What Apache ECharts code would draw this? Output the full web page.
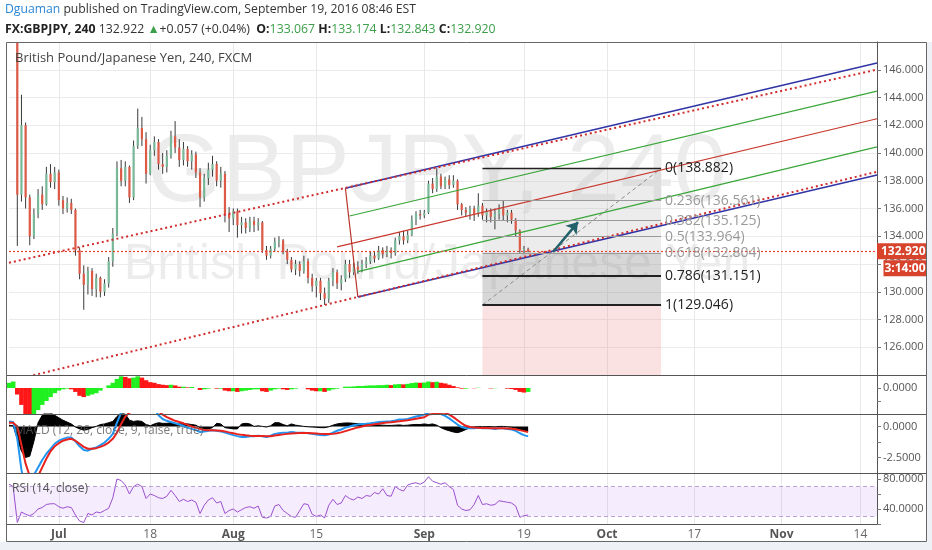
<!DOCTYPE html>
<html>
<head>
<meta charset="utf-8">
<title>GBPJPY 240</title>
<script src="https://cdn.jsdelivr.net/npm/echarts@6/dist/echarts.min.js"></script>
<style>
  html, body { margin: 0; padding: 0; background: #fff; }
  #chart { width: 932px; height: 550px; }
</style>
</head>
<body>
<div id="chart"></div>
<script>
// time axis: one slot per half trading day, labels on a few slots
const barCount = 210;
const tickIdx = [12, 34, 54, 74, 100, 124, 144, 165, 186, 205];
const tickLbl = ['Jul', '18', 'Aug', '15', 'Sep', '19', 'Oct', '17', 'Nov', '14'];

// price bars
const open = [
  153.0,156.0,158.0,137.0,142.0,136.8,134.0,135.6,137.0,136.3,
  138.5,137.9,138.6,136.6,136.0,136.4,135.9,133.0,131.3,130.5,
  131.5,130.2,131.0,130.0,130.6,132.2,134.2,138.9,138.0,139.0,
  136.8,140.5,141.8,141.0,138.5,140.2,140.8,139.2,139.0,139.8,
  141.2,140.4,139.5,140.3,139.4,139.9,138.6,136.8,138.2,138.8,
  139.2,138.0,138.5,135.6,135.3,135.8,134.8,135.0,134.6,135.1,
  134.8,135.0,133.0,132.6,133.1,133.6,133.7,132.9,132.3,131.6,
  132.0,131.5,132.2,131.0,130.4,130.8,129.9,129.5,130.8,131.4,
  130.6,130.9,132.0,131.4,131.8,131.6,132.0,132.2,132.6,132.4,
  133.0,132.7,133.0,132.8,133.7,134.0,133.7,134.1,135.2,135.6,
  135.5,135.7,137.8,137.4,138.3,137.6,138.1,137.7,138.0,136.3,
  135.9,135.7,136.0,135.6,136.2,135.5,135.8,135.4,135.6,136.0,
  135.5,135.7,135.2,134.4,133.0,133.067
];
const high = [
  156.5,160.2,160.0,144.2,142.2,137.0,136.0,137.4,137.6,139.0,
  139.2,139.0,138.8,136.9,136.8,136.7,136.0,133.2,131.9,131.8,
  131.7,131.3,131.1,130.9,132.5,134.6,139.4,139.5,139.4,139.1,
  140.9,143.2,142.6,141.5,140.6,141.2,141.0,140.0,140.2,141.6,
  142.3,141.0,140.8,140.5,140.2,140.1,138.9,138.5,139.3,139.8,
  139.4,139.0,138.7,136.1,136.0,136.0,135.4,135.3,135.4,135.4,
  135.3,135.1,133.3,133.3,133.9,134.0,133.8,133.1,132.5,132.3,
  132.2,132.6,132.4,131.3,131.0,131.0,130.3,131.0,131.7,131.6,
  131.2,132.3,132.3,132.1,132.2,132.3,132.5,132.9,132.9,133.3,
  133.2,133.3,133.2,133.9,134.3,134.4,134.4,135.5,135.8,135.9,
  135.9,138.0,138.2,138.9,138.5,138.3,138.4,138.4,138.1,136.4,
  136.1,136.2,136.2,137.1,136.4,136.0,136.0,136.0,136.3,136.6,
  135.9,135.9,135.3,134.5,133.3,133.174
];
const low = [
  152.5,155.5,133.3,136.5,136.0,133.35,133.8,135.3,135.9,136.2,
  137.5,137.4,136.2,135.6,135.7,135.6,132.6,130.9,128.7,129.8,
  129.7,129.6,129.6,129.7,130.3,131.8,134.0,137.6,137.6,136.4,
  136.6,140.3,140.5,137.8,138.4,139.8,138.8,138.5,138.6,139.6,
  140.0,139.0,139.1,139.0,138.8,138.2,136.1,136.5,137.7,138.3,
  137.6,137.5,135.0,134.3,134.8,133.9,134.2,134.2,134.3,134.3,
  134.4,132.8,132.3,132.4,132.9,133.2,132.7,132.0,131.4,131.2,
  131.1,131.3,130.6,130.0,129.6,129.4,129.05,129.2,130.4,130.2,
  130.1,130.7,131.0,131.2,131.3,131.4,131.7,132.0,132.1,132.3,
  132.4,132.5,132.4,132.6,133.4,133.4,133.5,134.0,134.8,135.2,
  135.3,135.6,137.1,137.2,137.4,137.4,137.4,137.5,135.9,135.5,
  135.4,135.2,135.1,135.4,135.2,135.0,135.0,134.5,135.2,135.1,
  135.0,134.9,134.0,132.8,132.7,132.843
];
const close = [
  156.0,158.0,137.0,142.0,136.8,134.0,135.6,137.0,136.3,138.5,
  137.9,138.6,136.6,136.0,136.4,135.9,133.0,131.3,130.5,131.5,
  130.2,131.0,130.0,130.6,132.2,134.2,138.9,138.0,139.0,136.8,
  140.5,141.8,141.0,138.5,140.2,140.8,139.2,139.0,139.8,141.2,
  140.4,139.5,140.3,139.4,139.9,138.6,136.8,138.2,138.8,139.2,
  138.0,138.5,135.6,135.3,135.8,134.8,135.0,134.6,135.1,134.8,
  135.0,133.0,132.6,133.1,133.6,133.7,132.9,132.3,131.6,132.0,
  131.5,132.2,131.0,130.4,130.8,129.9,129.5,130.8,131.4,130.6,
  130.9,132.0,131.4,131.8,131.6,132.0,132.2,132.6,132.4,133.0,
  132.7,133.0,132.8,133.7,134.0,133.7,134.1,135.2,135.6,135.5,
  135.7,137.8,137.4,138.3,137.6,138.1,137.7,138.0,136.3,135.9,
  135.7,136.0,135.6,136.2,135.5,135.8,135.4,135.6,136.0,135.5,
  135.7,135.2,134.4,133.0,133.067,132.922
];
const lastClose = 132.92;

// upper oscillator pane (green / red histogram)
const osc = [
  0.4,0.5,-0.5,-1.3,-2.0,-2.2,-2.1,-1.7,-1.3,-1.0,
  -0.7,-0.4,-0.2,-0.1,-0.05,-0.1,-0.3,-0.6,-0.7,-0.6,
  -0.5,-0.4,-0.2,0.0,0.2,0.4,0.7,0.9,0.85,0.75,
  0.8,0.9,0.8,0.6,0.45,0.4,0.3,0.25,0.22,0.25,
  0.2,0.1,0.1,0.05,0.08,0.0,-0.15,-0.1,-0.05,0.0,
  -0.05,-0.05,-0.2,-0.25,-0.25,-0.3,-0.25,-0.2,-0.15,-0.1,
  -0.1,-0.25,-0.3,-0.2,-0.1,-0.05,-0.1,-0.15,-0.1,-0.05,
  0.0,0.0,-0.1,-0.2,-0.25,-0.25,-0.3,-0.2,-0.1,-0.05,
  0.0,0.1,0.1,0.12,0.15,0.15,0.18,0.2,0.2,0.22,
  0.22,0.25,0.22,0.28,0.3,0.28,0.32,0.38,0.42,0.4,
  0.42,0.5,0.45,0.48,0.4,0.35,0.25,0.15,0.05,-0.05,
  -0.05,0.0,-0.02,0.02,0.0,0.0,-0.03,-0.02,0.0,0.0,
  -0.05,-0.08,-0.15,-0.3,-0.35,-0.3
];

// MACD pane
const macd = [
  0.4,0.35,-1.0,-3.5,-5.0,-5.5,-3.9,-3.3,-2.7,-2.2,
  -1.8,-1.4,-1.15,-1.0,-0.9,-0.9,-1.2,-1.6,-1.9,-1.95,
  -1.8,-1.7,-1.5,-1.3,-1.0,-0.6,0.3,1.1,1.5,1.4,
  1.6,1.9,2.0,1.7,1.6,1.4,0.9,0.6,0.45,0.35,
  0.25,0.15,0.05,-0.1,-0.2,-0.3,-0.45,-0.4,-0.35,-0.3,
  -0.35,-0.4,-0.5,-0.6,-0.7,-0.78,-0.85,-0.85,-0.8,-0.8,
  -0.75,-0.8,-0.85,-0.75,-0.6,-0.55,-0.5,-0.5,-0.45,-0.48,
  -0.5,-0.5,-0.55,-0.6,-0.65,-0.7,-0.72,-0.65,-0.5,-0.35,
  -0.25,-0.1,0.0,0.1,0.15,0.2,0.22,0.25,0.3,0.35,
  0.38,0.4,0.42,0.48,0.55,0.55,0.6,0.7,0.8,0.85,
  0.95,1.1,1.2,1.15,1.0,0.85,0.65,0.4,0.15,-0.05,
  -0.15,-0.15,-0.15,-0.1,-0.15,-0.15,-0.15,-0.2,-0.15,-0.15,
  -0.2,-0.25,-0.35,-0.55,-0.7,-0.8
];
const signal = [
  0.3,0.3,0.0,-1.5,-3.0,-4.0,-4.3,-4.0,-3.3,-2.6,
  -2.0,-1.6,-1.35,-1.15,-1.05,-1.0,-1.15,-1.4,-1.65,-1.8,
  -1.8,-1.75,-1.65,-1.5,-1.3,-1.0,-0.5,0.2,0.8,1.1,
  1.3,1.5,1.65,1.65,1.6,1.55,1.2,0.95,0.75,0.6,
  0.45,0.35,0.25,0.12,0.0,-0.1,-0.2,-0.28,-0.3,-0.3,
  -0.32,-0.35,-0.4,-0.48,-0.55,-0.62,-0.68,-0.72,-0.75,-0.77,
  -0.77,-0.78,-0.8,-0.79,-0.74,-0.69,-0.64,-0.6,-0.57,-0.55,
  -0.53,-0.52,-0.53,-0.55,-0.57,-0.6,-0.62,-0.62,-0.6,-0.55,
  -0.48,-0.38,-0.28,-0.18,-0.08,0.0,0.07,0.12,0.17,0.22,
  0.27,0.31,0.34,0.38,0.42,0.46,0.5,0.55,0.62,0.68,
  0.74,0.95,1.0,1.05,1.1,1.1,0.95,0.75,0.5,0.25,
  0.05,-0.05,-0.08,-0.1,-0.12,-0.13,-0.14,-0.15,-0.15,-0.15,
  -0.16,-0.18,-0.22,-0.3,-0.38,-0.46
];
const macdArea = [
  0.1,0.05,-1.0,-2.0,-2.5,-2.4,-1.2,0.3,0.9,1.2,
  1.1,0.9,0.7,0.5,0.35,0.2,-0.05,-0.2,-0.3,-0.25,
  -0.1,0.0,0.15,0.2,0.3,0.4,0.8,1.1,1.0,0.5,
  0.4,0.45,0.4,0.15,0.05,0.2,0.3,0.25,0.25,0.3,
  0.2,0.2,0.25,0.2,0.15,0.1,-0.1,-0.2,-0.2,-0.1,
  0.25,0.2,-0.1,-0.15,-0.2,-0.2,0.2,0.25,0.2,0.0,
  0.05,0.0,-0.05,0.05,0.3,0.3,0.15,0.05,0.2,0.1,
  0.05,0.0,-0.03,-0.05,-0.07,-0.1,-0.1,-0.03,0.1,0.2,
  0.25,0.28,0.28,0.25,0.22,0.2,0.15,0.12,0.12,0.12,
  0.1,0.08,0.08,0.1,0.12,0.08,0.1,0.14,0.16,0.15,
  0.2,0.15,0.2,0.1,-0.1,-0.25,-0.35,-0.45,-0.5,-0.4,
  -0.25,-0.1,-0.07,0.0,-0.03,-0.02,-0.01,-0.05,0.0,0.0,
  -0.04,-0.07,-0.13,-0.25,-0.32,-0.35
];

// RSI pane
const rsi = [
  73,70,22,36,33,31,34,40,42,46,
  47,47,43,41,43,42,32,24,22,34,
  32,36,35,38,41,55,80,78,72,60,
  70,73,70,54,60,58,55,54,57,65,
  58,50,53,50,52,49,34,45,52,55,
  48,50,34,38,40,36,39,42,43,41,
  44,29,28,30,44,46,38,34,30,29,
  38,47,46,33,30,32,28,45,53,46,
  48,58,54,52,56,54,58,57,62,60,
  67,58,57,70,66,64,72,74,75,73,
  76,83,77,75,73,75,70,66,45,40,
  38,39,46,58,46,47,45,46,51,50,
  49,48,44,29,31,32
];

// drawings: [slot, price] anchors
const upperDotted = [[0, 132.09], [209, 146.01]];
const lowerDotted = [[0, 123.56], [209, 138.65]];
const forkUpper = [[81, 137.46], [209, 146.48]];
const forkLower = [[84, 129.62], [209, 138.42]];
const forkMedian = [[79, 133.23], [209, 142.47]];
const forkInnerUp = [[82, 135.46], [209, 144.46]];
const forkInnerLow = [[84, 131.45], [209, 140.44]];
const forkHandle = [[81, 137.46], [84, 129.62]];
const arrowPts = [[131, 132.87], [137, 135.02]];
const fibLevels = [0, 0.236, 0.382, 0.5, 0.618, 0.786, 1];
const fibPrices = [138.882, 136.561, 135.125, 133.964, 132.804, 131.151, 129.046];
const fibFrom = 114, fibTo = 157;

const cats = Array.from({ length: barCount }, (_, i) => String(i));
const candles = open.map((o, i) => [i, o, close[i], low[i], high[i]]);

const FONT = '"Open Sans", "Noto Sans", sans-serif';
const AXIS_TXT = '#555';

function makeX(k) {
  return {
    type: 'category', gridIndex: k, data: cats, boundaryGap: false,
    axisLine: { show: false }, axisTick: { show: false },
    axisLabel: {
      show: k === 3, margin: 5, fontFamily: FONT, fontSize: 12,
      interval: (i) => tickIdx.includes(i),
      formatter: (v, i) => {
        const t = tickLbl[tickIdx.indexOf(i)];
        return isNaN(t) ? '{m|' + t + '}' : '{d|' + t + '}';
      },
      rich: {
        m: { fontWeight: 'bold', color: '#555', fontSize: 12, fontFamily: FONT },
        d: { color: '#666', fontSize: 12, fontFamily: FONT }
      }
    },
    splitLine: { show: true, interval: (i) => tickIdx.includes(i), lineStyle: { color: '#e8e8e8' } }
  };
}

function makeY(k, min, max, interval, fmt, split) {
  return {
    type: 'value', gridIndex: k, position: 'right', min, max, interval,
    axisLine: { show: true, lineStyle: { color: '#555' } },
    axisTick: { show: true, length: 4, lineStyle: { color: '#777' } },
    axisLabel: { color: AXIS_TXT, fontSize: 11, fontFamily: FONT, margin: 6, formatter: fmt,
                 showMinLabel: k === 0 ? false : null, showMaxLabel: k === 0 ? false : null },
    splitLine: { show: split, lineStyle: { color: '#ebebeb' } }
  };
}

function renderCandle(params, api) {
  const i = api.value(0);
  const o = api.value(1), c = api.value(2), l = api.value(3), h = api.value(4);
  const pH = api.coord([i, h]), pL = api.coord([i, l]);
  const pO = api.coord([i, o]), pC = api.coord([i, c]);
  const w = 2.2;
  const cs = params.coordSys;
  return {
    type: 'group',
    clipPath: { type: 'rect', shape: { x: cs.x, y: cs.y, width: cs.width, height: cs.height } },
    children: [
      { type: 'line', shape: { x1: pH[0], y1: pH[1], x2: pL[0], y2: pL[1] },
        style: { stroke: '#3a3a3a', lineWidth: 1 } },
      { type: 'rect', shape: { x: pO[0] - w / 2, y: Math.min(pO[1], pC[1]), width: w,
                               height: Math.max(Math.abs(pO[1] - pC[1]), 1) },
        style: { fill: c >= o ? '#79b99a' : '#dd5a47' } }
    ]
  };
}

function drawLine(data, color, width, type, z) {
  return {
    type: 'line', xAxisIndex: 0, yAxisIndex: 0, data, showSymbol: false, silent: true,
    lineStyle: { color, width, type }, z
  };
}

const fibColor = (lv) => (lv === 0 || lv >= 0.786) ? '#222' : '#9a9a9a';
const fibLines = fibLevels.map((lv, k) => [
  { coord: [fibFrom, fibPrices[k]],
    lineStyle: { color: fibColor(lv), width: lv === 0 ? 1.3 : (lv >= 0.786 ? 2 : 1), type: 'solid' },
    label: { show: true, position: 'end', distance: 4, formatter: lv + '(' + fibPrices[k].toFixed(3) + ')',
             color: fibColor(lv), fontSize: 14, fontFamily: FONT } },
  { coord: [fibTo, fibPrices[k]] }
]);

const option = {
  animation: false,
  backgroundColor: '#ffffff',
  textStyle: { fontFamily: FONT },
  grid: [
    { left: 9, right: 55, top: 42, height: 333 },
    { left: 9, right: 55, top: 375, height: 39 },
    { left: 9, right: 55, top: 414, height: 59 },
    { left: 9, right: 55, top: 473, height: 51 }
  ],
  xAxis: [0, 1, 2, 3].map(makeX),
  yAxis: [
    makeY(0, 124, 148, 2, (v) => v.toFixed(3), true),
    makeY(1, -2, 1, 1, (v) => v === 0 ? '0.0000' : '', false),
    makeY(2, -3.75, 1, 1.25, (v) => (v === 0 || v === -2.5) ? v.toFixed(4) : '', false),
    makeY(3, 20, 88, 20, (v) => (v === 40 || v === 80) ? v.toFixed(4) : '', false)
  ],
  graphic: [
    { type: 'text', left: 5, top: 4, z: 20,
      style: { text: '{u|Dguaman} published on TradingView.com, September 19, 2016 08:46 EST',
               fill: '#333', fontSize: 12.2, fontFamily: FONT,
               rich: { u: { fill: '#2b86d6', fontSize: 12.2, fontFamily: FONT } } } },
    { type: 'text', left: 5, top: 23, z: 20,
      style: { text: '{b|FX:GBPJPY, 240} 132.922 {g|▲}+0.057 (+0.04%)  {b|O:}{g|133.067} {b|H:}{g|133.174} {b|L:}{g|132.843} {b|C:}{g|132.920}',
               fill: '#333', fontSize: 12.3, fontFamily: FONT,
               rich: { b: { fill: '#222', fontWeight: 'bold', fontSize: 12.3, fontFamily: FONT },
                       g: { fill: '#3a9f48', fontSize: 12.3, fontFamily: FONT } } } },
    { type: 'text', x: 437, y: 175, z: 0, silent: true,
      style: { text: 'GBPJPY, 240', fill: 'rgba(0,0,0,0.075)', fontSize: 96, fontFamily: 'Liberation Sans, Arial, sans-serif',
               align: 'center', verticalAlign: 'middle' } },
    { type: 'text', x: 437, y: 265, z: 0, silent: true,
      style: { text: 'British Pound/Japanese Yen', fill: 'rgba(0,0,0,0.075)', fontSize: 50, fontFamily: 'Liberation Sans, Arial, sans-serif',
               align: 'center', verticalAlign: 'middle' } },
    { type: 'text', left: 15, top: 52, z: 20,
      style: { text: 'British Pound/Japanese Yen, 240, FXCM', fill: '#444', fontSize: 13, fontFamily: FONT } },
    { type: 'text', left: 15, top: 425, z: 20,
      style: { text: 'MACD (12, 26, close, 9, false, true)', fill: 'rgba(90,90,90,0.8)', fontSize: 12, fontFamily: FONT } },
    { type: 'text', left: 12, top: 483, z: 20,
      style: { text: 'RSI (14, close)', fill: '#555', fontSize: 12, fontFamily: FONT } },
    // frame and pane separators
    { type: 'rect', z: 30, silent: true, shape: { x: 6.5, y: 42.5, width: 920, height: 499 },
      style: { fill: null, stroke: '#666', lineWidth: 1 } },
    { type: 'line', z: 30, silent: true, shape: { x1: 7, y1: 375.5, x2: 926, y2: 375.5 }, style: { stroke: '#555', lineWidth: 1 } },
    { type: 'line', z: 30, silent: true, shape: { x1: 7, y1: 414.5, x2: 926, y2: 414.5 }, style: { stroke: '#555', lineWidth: 1 } },
    { type: 'line', z: 30, silent: true, shape: { x1: 7, y1: 473.5, x2: 926, y2: 473.5 }, style: { stroke: '#555', lineWidth: 1 } },
    { type: 'line', z: 30, silent: true, shape: { x1: 7, y1: 524.5, x2: 877, y2: 524.5 }, style: { stroke: '#555', lineWidth: 1 } },
    { type: 'rect', z: 30, silent: true, shape: { x: 0, y: 542, width: 932, height: 8 }, style: { fill: '#eef1f5' } },
    { type: 'rect', z: 30, silent: true, shape: { x: 927, y: 42, width: 5, height: 500 }, style: { fill: '#eef1f5' } }
  ],
  series: [
    // fibonacci retracement with its shaded zones
    {
      name: 'fib', type: 'line', xAxisIndex: 0, yAxisIndex: 0, silent: true, z: 1,
      data: [[fibFrom, fibPrices[6]], [fibTo, fibPrices[0]]], showSymbol: false,
      lineStyle: { color: '#8c8c8c', width: 1, type: [4, 3] },
      markArea: {
        silent: true,
        data: [
          [{ coord: [fibFrom, fibPrices[0]], itemStyle: { color: 'rgba(185,185,185,0.28)' } }, { coord: [fibTo, fibPrices[4]] }],
          [{ coord: [fibFrom, fibPrices[4]], itemStyle: { color: 'rgba(150,150,150,0.38)' } }, { coord: [fibTo, fibPrices[6]] }],
          [{ coord: [fibFrom, fibPrices[6]], itemStyle: { color: 'rgba(240,150,150,0.28)' } }, { coord: [fibTo, 124] }]
        ]
      },
      markLine: { silent: true, symbol: ['none', 'none'], data: fibLines }
    },
    {
      name: 'GBPJPY', type: 'custom', xAxisIndex: 0, yAxisIndex: 0, z: 2,
      renderItem: renderCandle, data: candles, encode: { x: 0, y: [1, 2, 3, 4] }
    },
    drawLine(forkMedian, '#c8372d', 1.2, 'solid', 3),
    drawLine(forkInnerUp, '#3aa63a', 1.2, 'solid', 3),
    drawLine(forkInnerLow, '#3aa63a', 1.2, 'solid', 3),
    drawLine(forkHandle, '#b8352b', 1.2, 'solid', 3),
    drawLine(forkUpper, '#3134a6', 1.5, 'solid', 3),
    drawLine(forkLower, '#3134a6', 1.5, 'solid', 3),
    drawLine(upperDotted, '#d22b2b', 2, [2, 3], 4),
    drawLine(lowerDotted, '#d22b2b', 2, [2, 3], 4),
    {
      name: 'last', type: 'line', xAxisIndex: 0, yAxisIndex: 0, silent: true, z: 5, clip: false,
      data: [[125, close[125]]], showSymbol: false,
      markLine: {
        silent: true, symbol: 'none',
        data: [
          { yAxis: lastClose, lineStyle: { color: '#e5452c', width: 1.2, type: [2, 2], opacity: 1 },
            label: { show: true, position: 'end', distance: 0, formatter: lastClose.toFixed(3),
                     color: '#fff', backgroundColor: '#d8432c', padding: [2, 4], fontSize: 12,
                     fontWeight: 'bold', fontFamily: FONT } },
          [{ coord: arrowPts[0], symbol: 'none', lineStyle: { color: '#22606a', width: 2.5, type: 'solid' }, label: { show: false } },
           { coord: arrowPts[1], symbol: 'arrow', symbolSize: 11 }]
        ]
      },
      markPoint: {
        silent: true,
        data: [{ coord: [cats[209], lastClose], symbol: 'rect', symbolSize: [43, 16], symbolOffset: [28, 17],
                 itemStyle: { color: '#d8432c' },
                 label: { show: true, formatter: '3:14:00', color: '#fff', fontSize: 12, fontWeight: 'bold', fontFamily: FONT } }]
      }
    },
    // oscillator histogram
    {
      name: 'osc', type: 'bar', xAxisIndex: 1, yAxisIndex: 1, data: osc, barWidth: 4.6, silent: true,
      itemStyle: { color: (p) => (p.dataIndex === 0 || osc[p.dataIndex] >= osc[p.dataIndex - 1]) ? '#1ff01f' : '#ff1717' }
    },
    // MACD
    {
      name: 'macdArea', type: 'line', xAxisIndex: 2, yAxisIndex: 2, data: macdArea, showSymbol: false, silent: true,
      lineStyle: { color: '#000', width: 1 }, areaStyle: { color: '#000', opacity: 1 }
    },
    {
      name: 'MACD', type: 'line', xAxisIndex: 2, yAxisIndex: 2, data: macd, showSymbol: false, silent: true,
      lineStyle: { color: '#2196f3', width: 2 }
    },
    {
      name: 'Signal', type: 'line', xAxisIndex: 2, yAxisIndex: 2, data: signal, showSymbol: false, silent: true,
      lineStyle: { color: '#e8221d', width: 2 }
    },
    // RSI
    {
      name: 'RSI', type: 'line', xAxisIndex: 3, yAxisIndex: 3, data: rsi, showSymbol: false, silent: true,
      lineStyle: { color: '#9b4fcf', width: 1 },
      markArea: { silent: true, data: [[{ yAxis: 30, itemStyle: { color: 'rgba(170,110,240,0.12)' } }, { yAxis: 70 }]] },
      markLine: { silent: true, symbol: 'none', label: { show: false },
                  lineStyle: { color: '#b9a2d6', type: [4, 3], width: 1 },
                  data: [{ yAxis: 70 }, { yAxis: 30 }] }
    }
  ]
};

const chart = echarts.init(document.getElementById('chart'));
chart.setOption(option);
</script>
</body>
</html>
